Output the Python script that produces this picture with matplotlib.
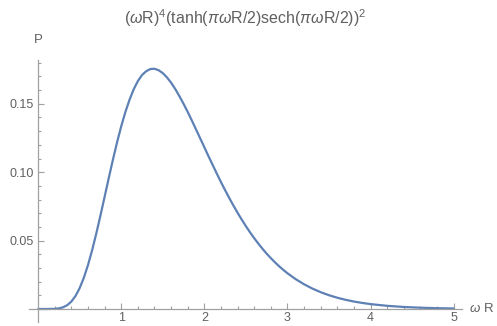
import matplotlib
matplotlib.use("Agg")
import matplotlib.pyplot as plt
from matplotlib.ticker import MultipleLocator

# Values
omega_r = [0.0, 0.1, 0.2, 0.25, 0.3, 0.35, 0.4, 0.45, 0.5, 0.55, 0.6, 0.65, 0.7, 0.75,
           0.8, 0.85, 0.9, 0.95, 1.0, 1.05, 1.1, 1.15, 1.2, 1.25, 1.3, 1.35, 1.4, 1.45,
           1.5, 1.55, 1.6, 1.65, 1.7, 1.75, 1.8, 1.85, 1.9, 1.95, 2.0, 2.05, 2.1, 2.15,
           2.2, 2.25, 2.3, 2.35, 2.4, 2.45, 2.5, 2.55, 2.6, 2.65, 2.7, 2.75, 2.8, 2.85,
           2.9, 2.95, 3.0, 3.1, 3.2, 3.3, 3.4, 3.5, 3.6, 3.7, 3.8, 3.9, 4.0, 4.2, 4.4,
           4.6, 4.8, 5.0]
power = [0.0, 0.00000, 0.00013, 0.00047, 0.00126, 0.00282, 0.00548, 0.00956, 0.01532,
         0.02286, 0.03217, 0.04307, 0.05529, 0.06842, 0.08205, 0.09581, 0.10920, 0.12192,
         0.13360, 0.14406, 0.15300, 0.16063, 0.16660, 0.17103, 0.17380, 0.17542, 0.17560,
         0.17451, 0.17240, 0.16928, 0.16540, 0.16077, 0.15550, 0.14993, 0.14400, 0.13770,
         0.13120, 0.12473, 0.11820, 0.11166, 0.10530, 0.09894, 0.09275, 0.08684, 0.08107,
         0.07559, 0.07030, 0.06529, 0.06052, 0.05600, 0.05175, 0.04773, 0.04398, 0.04045,
         0.03717, 0.03409, 0.03123, 0.02859, 0.02612, 0.02177, 0.01806, 0.01492, 0.01228,
         0.01007, 0.00823, 0.00671, 0.00545, 0.00442, 0.00357, 0.00232, 0.00149, 0.00095,
         0.00060, 0.00038]
x_ticks = [1, 2, 3, 4, 5]
y_ticks = [0.05, 0.10, 0.15]

plt.rcParams["font.family"] = ["Liberation Sans", "DejaVu Sans"]
plt.rcParams["mathtext.fontset"] = "custom"
plt.rcParams["mathtext.rm"] = "Liberation Sans"
plt.rcParams["mathtext.it"] = "Liberation Sans:italic"

grey = "#606060"
axis_grey = "#a0a0a0"

fig = plt.figure(figsize=(4.97, 3.26), dpi=100)
ax = fig.add_axes([29 / 497, 4 / 326, 433 / 497, 262 / 326])

ax.plot(omega_r, power, color="#5E81B5", lw=1.6, solid_capstyle="round",
        solid_joinstyle="round")

ax.set_xlim(-0.11, 5.1)
ax.set_ylim(-0.0095, 0.182)

ax.spines["left"].set_position(("data", 0))
ax.spines["bottom"].set_position(("data", 0))
ax.spines["top"].set_visible(False)
ax.spines["right"].set_visible(False)
for s in ("left", "bottom"):
    ax.spines[s].set_color(axis_grey)
    ax.spines[s].set_linewidth(0.9)

ax.set_xticks(x_ticks)
ax.set_yticks(y_ticks)
ax.set_yticklabels(["0.05", "0.10", "0.15"])
ax.xaxis.set_minor_locator(MultipleLocator(0.2))
ax.yaxis.set_minor_locator(MultipleLocator(0.01))
ax.tick_params(which="both", direction="in", color=axis_grey, width=0.8,
               labelcolor=grey, labelsize=9)
ax.tick_params(which="major", length=4.5)
ax.tick_params(which="minor", length=2.5)
ax.tick_params(axis="x", pad=2.5)
ax.tick_params(axis="y", pad=3)
ax.patch.set_visible(False)

fig.text(245.5 / 497, 1 - 18 / 326,
         r"$(\omega\mathrm{R})^4(\mathrm{tanh}(\pi\omega\mathrm{R}/2)\mathrm{sech}(\pi\omega\mathrm{R}/2))^2$",
         ha="center", va="center", fontsize=11.5, color=grey)
fig.text(38 / 497, 1 - 40 / 326, "P", ha="center", va="center", fontsize=9.5, color=grey)
fig.text(469 / 497, 1 - 309 / 326, r"$\omega$ R", ha="left", va="center",
         fontsize=9.5, color=grey)

fig.savefig("out.png", dpi=100)
